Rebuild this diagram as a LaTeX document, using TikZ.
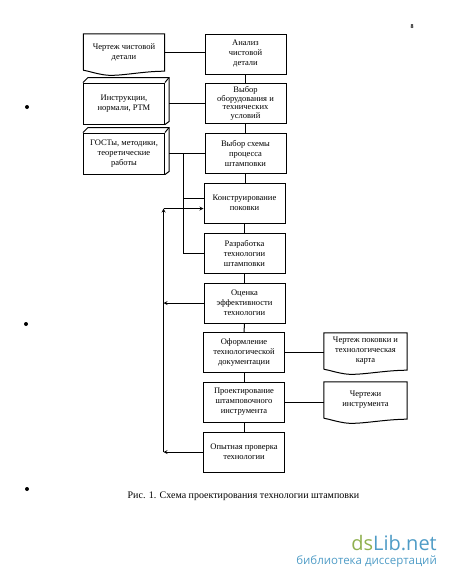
\documentclass[tikz,border=0pt]{standalone}
\usepackage{fontspec}
\setmainfont{Liberation Serif}
\newfontfamily\marksans{Open Sans}
\usetikzlibrary{calc}
\usepackage{xcolor}
\definecolor{markgreen}{HTML}{8FB04F}
\definecolor{markblue}{HTML}{4F9CC6}
\tikzset{
  stagebox/.style={draw, line width=1, minimum width=81, minimum height=40, inner sep=0, align=center, font=\fontsize{8.5}{10}\selectfont},
  sheet/.style={minimum height=36, inner sep=0, align=center, font=\fontsize{8.5}{10}\selectfont},
  block/.style={draw, line width=1, minimum width=81, minimum height=41, inner sep=0, align=center, font=\fontsize{8.5}{10}\selectfont},
  link/.style={line width=1},
  flow/.style={line width=0.8, -stealth},
}
% outline of a sheet of paper round a text node
\newcommand{\sheetline}[1]{
  \draw[line width=1] (#1.south west) -- (#1.north west) -- (#1.north east) -- ($(#1.south east)+(0,1)$)
    .. controls ($(#1.south east)+(-22,1)$) and ($(#1.south west)+(38,6)$) .. ($(#1.south west)+(24,5)$)
    .. controls ($(#1.south west)+(14,4)$) and ($(#1.south west)+(6,1)$) .. (#1.south west);
}
% top and side faces of a solid block
\newcommand{\blockline}[1]{
  \draw[line width=1] (#1.north west) -- ($(#1.north west)+(5,-5)$) -- ($(#1.north east)+(4,-5)$) -- ($(#1.south east)+(4,-3)$) -- (#1.south east);
  \draw[line width=1] (#1.north east) -- ($(#1.north east)+(4,-5)$);
}
\begin{document}
\begin{tikzpicture}[x=1pt, y=-1pt]
  \useasboundingbox (0,0) rectangle (450,581);

  \node[stagebox] (analiz) at (245.5,54) {Анализ\\чистовой\\детали};
  \node[stagebox, font=\fontsize{8.5}{8.5}\selectfont] (vybor) at (245.5,103.5) {Выбор\\оборудования и\\технических\\условий};
  \node[stagebox] (skhema) at (245.5,153.5) {Выбор схемы\\процесса\\штамповки};
  \node[stagebox] (konstr) at (244.5,203) {Конструирование\\поковки};
  \node[stagebox] (razrab) at (244.5,253) {Разработка\\технологии\\штамповки};
  \node[stagebox] (ocenka) at (244.5,303) {Оценка\\эффективности\\технологии};
  \node[stagebox] (oform) at (244,352.5) {Оформление\\технологической\\документации};
  \node[stagebox] (proekt) at (244,402) {Проектирование\\штамповочного\\инструмента};
  \node[stagebox] (opyt) at (244,452) {Опытная проверка\\технологии};

  \node[sheet, minimum width=81] (chertezh) at (124,52) {Чертеж чистовой\\детали};
  \sheetline{chertezh}
  \node[sheet, minimum width=83] (karta) at (365.5,351) {Чертеж поковки и\\технологическая\\карта};
  \sheetline{karta}
  \node[sheet, minimum width=83] (instrument) at (365.5,400) {Чертежи\\инструмента};
  \sheetline{instrument}

  \node[block] (normy) at (124,103.5) {Инструкции,\\нормали, РТМ};
  \blockline{normy}
  \node[block] (gost) at (124,153.5) {ГОСТы, методики,\\теоретические\\работы};
  \blockline{gost}

  \draw[link] (chertezh.east) -- (chertezh.east -| analiz.west);
  \draw[link] ($(normy.east)+(4,0)$) -- (vybor.west);
  \draw[link] ($(gost.east)+(4,0)$) -- (skhema.west);

  \draw[link] (analiz) -- (vybor);
  \draw[link] (vybor) -- (skhema);
  \draw[link] (skhema.south) -- (skhema.south |- konstr.north);
  \draw[link] (konstr.south) -- (konstr.south |- razrab.north);
  \draw[link] (razrab) -- (ocenka);
  \draw[link] (ocenka) -- (oform);
  \draw[link] (oform) -- (proekt);
  \draw[link] (proekt) -- (opyt);
  \draw[link] (oform) -- (karta.west |- oform);
  \draw[link] (proekt) -- (instrument.west |- proekt);

  % norms go down to the two design stages
  \coordinate (normtop) at (183.5,153.5);
  \coordinate (normmid) at (183.5,198);
  \coordinate (normlow) at (183.5,253);
  \draw[link] (normtop) -- (normlow) -- (razrab.west);
  \draw[link] (normmid) -- (konstr.west |- normmid);

  % return line
  \coordinate (backtop) at (163.5,208.5);
  \coordinate (backmid) at (163.5,303);
  \coordinate (backlow) at (163.5,452);
  \draw[flow] (opyt.west) -- (backlow);
  \draw[flow] (ocenka.west) -- (backmid);
  \draw[line width=0.8, stealth-] (backtop) -- (backlow);
  \draw[flow] (backtop) -- (konstr.west |- backtop);

  \node[font=\fontsize{10}{12}\selectfont] (caption) at (243.5,496) {Рис. 1. Схема проектирования технологии штамповки};
  \node[font=\fontsize{6}{7}\bfseries\selectfont] (pagenum) at (412,27) {8};

  \fill (27,107) circle (2);
  \fill (26,324) circle (2);
  \fill (27,489) circle (2);

  \node[anchor=east, inner sep=0, font=\marksans\fontsize{20}{22}\selectfont] (logo) at (437,543) {\textcolor{markgreen}{ds}\textcolor{markblue}{Lib.net}};
  \node[anchor=east, inner sep=0, text=markblue, font=\marksans\fontsize{11.5}{13}\selectfont] (logotext) at (437,561) {библиотека диссертаций};
\end{tikzpicture}
\end{document}
